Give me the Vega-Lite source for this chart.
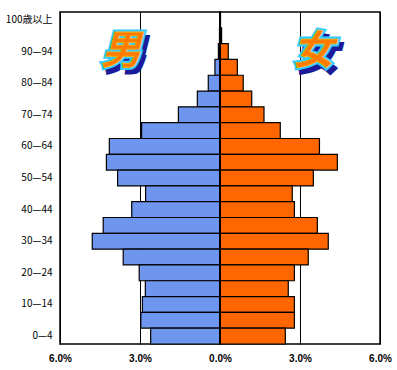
{
  "$schema": "https://vega.github.io/schema/vega-lite/v6.json",
  "width": 320,
  "height": 332,
  "autosize": {"type": "none"},
  "padding": {"left": 60, "top": 12, "right": 17, "bottom": 26},
  "background": "white",
  "config": {"view": {"stroke": "black", "strokeWidth": 1.5}, "font": "Liberation Sans"},
  "data": {"values": [
    {"age": "100歳以上", "male": 0.01, "female": 0.02},
    {"age": "95—99", "male": 0.02, "female": 0.06},
    {"age": "90—94", "male": 0.06, "female": 0.31},
    {"age": "85—89", "male": 0.19, "female": 0.65},
    {"age": "80—84", "male": 0.44, "female": 0.87},
    {"age": "75—79", "male": 0.85, "female": 1.19},
    {"age": "70—74", "male": 1.56, "female": 1.65},
    {"age": "65—69", "male": 2.94, "female": 2.26},
    {"age": "60—64", "male": 4.15, "female": 3.73},
    {"age": "55—59", "male": 4.26, "female": 4.40},
    {"age": "50—54", "male": 3.84, "female": 3.50},
    {"age": "45—49", "male": 2.79, "female": 2.71},
    {"age": "40—44", "male": 3.31, "female": 2.79},
    {"age": "35—39", "male": 4.38, "female": 3.65},
    {"age": "30—34", "male": 4.79, "female": 4.06},
    {"age": "25—29", "male": 3.63, "female": 3.31},
    {"age": "20—24", "male": 3.03, "female": 2.79},
    {"age": "15—19", "male": 2.80, "female": 2.56},
    {"age": "10—14", "male": 2.91, "female": 2.79},
    {"age": "5—9", "male": 2.97, "female": 2.79},
    {"age": "0—4", "male": 2.60, "female": 2.45}
  ]},
  "encoding": {
    "y": {
      "field": "age", "type": "nominal",
      "scale": {"domain": ["100歳以上","95—99","90—94","85—89","80—84","75—79","70—74","65—69","60—64","55—59","50—54","45—49","40—44","35—39","30—34","25—29","20—24","15—19","10—14","5—9","0—4"], "paddingInner": 0, "paddingOuter": 0},
      "axis": {
        "title": null, "ticks": false, "domain": false, "grid": false,
        "values": ["100歳以上","90—94","80—84","70—74","60—64","50—54","40—44","30—34","20—24","10—14","0—4"],
        "labelFont": "Noto Sans CJK JP", "labelFontSize": 10, "labelColor": "black", "labelPadding": 8
      }
    }
  },
  "layer": [
    {
      "transform": [
        {"fold": ["male", "female"], "as": ["sex", "pct"]},
        {"calculate": "datum.sex === 'male' ? -datum.pct : datum.pct", "as": "signed"}
      ],
      "mark": {"type": "bar", "stroke": "black", "strokeWidth": 1.2, "width": {"band": 1}},
      "encoding": {
        "x": {
          "field": "signed", "type": "quantitative",
          "scale": {"domain": [-6, 6], "nice": false, "zero": false},
          "axis": {
            "title": null, "values": [-6, -3, 0, 3, 6],
            "labelExpr": "format(abs(datum.value), '.1f') + '%'",
            "grid": true, "gridColor": "black", "gridWidth": 1, "gridOpacity": 1,
            "ticks": false, "domain": false, "labelFlush": false, "labelOverlap": false,
            "labelFontSize": 10, "labelFontWeight": "bold", "labelColor": "black", "labelPadding": 9
          }
        },
        "color": {"field": "sex", "type": "nominal", "scale": {"domain": ["male", "female"], "range": ["#6f96ef", "#ff6600"]}, "legend": null}
      }
    },
    {
      "data": {"values": [{}]},
      "mark": {"type": "rule", "color": "black", "strokeWidth": 2},
      "encoding": {"x": {"datum": 0}, "y": null}
    },
    {
      "data": {"values": [{"label": "男", "pos": -3.7, "age": "90—94"}, {"label": "女", "pos": 3.5, "age": "90—94"}]},
      "mark": {"type": "text", "font": "Noto Sans CJK JP", "fontSize": 40, "fontWeight": "bold", "fontStyle": "italic", "fill": "#1a1a9a", "stroke": "#1a1a9a", "strokeWidth": 4, "dx": 4, "dy": 5, "baseline": "middle", "align": "center"},
      "encoding": {"x": {"field": "pos", "type": "quantitative"}, "text": {"field": "label"}}
    },
    {
      "data": {"values": [{"label": "男", "pos": -3.7, "age": "90—94"}, {"label": "女", "pos": 3.5, "age": "90—94"}]},
      "mark": {"type": "text", "font": "Noto Sans CJK JP", "fontSize": 40, "fontWeight": "bold", "fontStyle": "italic", "fill": "#33ccff", "stroke": "#33ccff", "strokeWidth": 5, "baseline": "middle", "align": "center"},
      "encoding": {"x": {"field": "pos", "type": "quantitative"}, "text": {"field": "label"}}
    },
    {
      "data": {"values": [{"label": "男", "pos": -3.7, "age": "90—94"}, {"label": "女", "pos": 3.5, "age": "90—94"}]},
      "mark": {"type": "text", "font": "Noto Sans CJK JP", "fontSize": 40, "fontWeight": "bold", "fontStyle": "italic", "fill": "#ff7a00", "stroke": "#ffb000", "strokeWidth": 0.8, "baseline": "middle", "align": "center"},
      "encoding": {"x": {"field": "pos", "type": "quantitative"}, "text": {"field": "label"}}
    }
  ]
}
